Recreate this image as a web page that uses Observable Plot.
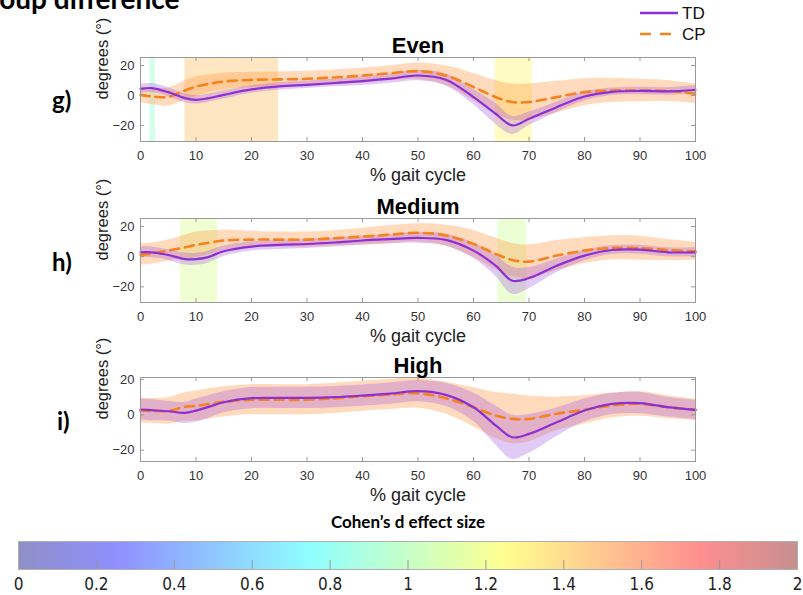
<!DOCTYPE html>
<html><head><meta charset="utf-8">
<script src="https://cdn.jsdelivr.net/npm/d3@7"></script>
<script src="https://cdn.jsdelivr.net/npm/@observablehq/plot@0.6"></script>
<style>
html,body{margin:0;padding:0;background:#fff;width:803px;height:595px;overflow:hidden;}
#root{position:relative;width:803px;height:595px;overflow:hidden;}
.abs{position:absolute;}
.plabel{font-family:Lato,"Open Sans",sans-serif;font-weight:700;font-size:24px;line-height:1;transform:translateY(-50%);}
#bigtitle{font-family:Lato,"Open Sans",sans-serif;font-weight:700;font-size:28px;line-height:1;white-space:nowrap;}
</style></head><body><div id="root"></div>
<script>
// ---------- data ----------
const xs = [0, 2, 5, 8, 10, 12, 15, 20, 25, 30, 35, 40, 45, 50, 55, 60, 64, 67, 70, 75, 80, 85, 90, 95, 100];

const evenTD   = [4.4, 4.9, 2.2, -1.8, -2.9, -2.0, 0.4, 4.0, 6.0, 7.1, 8.3, 9.6, 11.2, 13.3, 10.5, -1.1, -12.2, -20.0, -15.6, -7.8, -0.7, 2.4, 3.0, 2.7, 3.8];
const evenTDsd = [3, 3, 3, 3, 2.8, 2.8, 2.8, 2.5, 2.5, 2.5, 2.5, 3, 3, 3.5, 4, 5, 7, 6, 4.5, 3.5, 3, 2.5, 2.5, 2.5, 2.8];
const evenCP   = [0.4, -0.6, -1.0, 3.3, 6.0, 7.5, 9.3, 10.4, 10.7, 11.1, 12.0, 13.3, 14.8, 16.2, 13.3, 5.6, -1.1, -4.4, -4.4, -1.1, 2.2, 3.3, 3.3, 3.0, 1.1];
const evenCPsd = [5, 5.5, 6, 6.5, 6.5, 6, 5.5, 5, 5, 5, 5, 5, 5, 5.5, 6.5, 9, 11, 12, 12, 10.5, 9, 8, 7.5, 7, 6.5];

const medTD   = [2.9, 2.9, 1.1, -1.6, -1.7, -0.5, 3.6, 6.7, 7.8, 8.4, 9.4, 10.7, 11.6, 12.4, 11.1, 4.0, -6.0, -16.0, -14.2, -6.0, 0.7, 4.4, 4.6, 2.9, 2.9];
const medTDsd = [3.5, 3.5, 3.5, 4, 4, 4, 3.5, 3, 3, 3, 3, 3, 3, 3.5, 4, 5, 7, 9, 7, 4.5, 3.5, 3, 3, 3, 3];
const medCP   = [1.3, 2.0, 4.0, 6.2, 7.8, 9.0, 10.7, 11.3, 11.3, 11.3, 12.2, 13.3, 14.6, 15.8, 14.0, 8.4, 1.8, -2.2, -3.3, 0.7, 4.0, 5.8, 5.6, 4.4, 3.6];
const medCPsd = [7, 7, 7, 8, 8.5, 8, 7, 5.5, 5, 5, 5, 5.5, 6, 6, 7, 9, 10.5, 11, 11, 10, 8.5, 8, 8, 7, 6];

const highTD   = [3.0, 2.6, 2.0, 1.1, 2.4, 4.2, 7.1, 9.4, 9.6, 9.6, 10.0, 10.9, 12.0, 13.4, 11.3, 4.3, -6.0, -12.7, -10.8, -4.2, 2.4, 6.2, 6.6, 4.3, 2.8];
const highTDsd = [6, 6, 5.5, 6, 6.5, 6.5, 6, 6, 6, 6, 6, 6, 6, 6, 6.5, 8, 11, 12.5, 11, 8, 6.5, 6, 6, 5.5, 5.5];
const highCP   = [2.4, 2.2, 2.2, 4.5, 5.0, 6.0, 7.3, 8.5, 8.5, 8.5, 9.3, 10.5, 11.5, 12.2, 9.4, 4.3, -0.4, -2.3, -2.3, 0.6, 2.8, 5.3, 6.2, 4.3, 2.8];
const highCPsd = [7, 7, 7.5, 8, 8.5, 8.5, 8.5, 8.5, 8.5, 8.5, 8.5, 8.5, 8.5, 8.5, 9, 11, 13, 14, 13, 9.5, 8, 7, 7, 6.5, 6];

// significant regions (x from, x to, Cohen's d)
const evenRegions = [{x1: 1.7, x2: 2.7, d: 0.9}, {x1: 8.0, x2: 24.9, d: 1.45}, {x1: 63.9, x2: 70.6, d: 1.28}];
const medRegions  = [{x1: 7.2, x2: 13.9, d: 1.12}, {x1: 64.4, x2: 69.6, d: 1.1}];
const highRegions = [];

const xTicks = [0, 10, 20, 30, 40, 50, 60, 70, 80, 90, 100];
const yTicks = [-20, 0, 20];
const cbTicks = [0, 0.2, 0.4, 0.6, 0.8, 1, 1.2, 1.4, 1.6, 1.8, 2];
const cbInnerTicks = [0.2, 0.4, 0.6, 0.8, 1, 1.2, 1.4, 1.6, 1.8];
const effectDomain = [0, 0.25, 0.75, 1.25, 1.75, 2];
const effectColors = ["#8f8fc7", "#8f8fff", "#8fffff", "#ffff8f", "#ff8f8f", "#c78f8f"];

const panelTitles = ["Even", "Medium", "High"];
const panelLabels = ["g)", "h)", "i)"];
const legendLabels = ["TD", "CP"];

// ---------- styles ----------
const tdColor = "#8c2fd3", cpColor = "#f5821f";
const tdBand = "#9e4fe0", cpBand = "#ff9640";
const frameColor = "#9a9a9a";
const curve = "catmull-rom";
const colorScale = {type: "linear", domain: effectDomain, range: effectColors};
const baseFont = '"Liberation Sans", Arial, Helvetica, sans-serif';
const root = document.getElementById("root");

function panel(cfg) {
  const rows = xs.map((x, i) => ({
    x,
    td: cfg.td[i], tdLo: cfg.td[i] - cfg.tdSd[i], tdHi: cfg.td[i] + cfg.tdSd[i],
    cp: cfg.cp[i], cpLo: cfg.cp[i] - cfg.cpSd[i], cpHi: cfg.cp[i] + cfg.cpSd[i]
  }));
  const fw = 803 - 140 - 108, fh = 84;
  return Plot.plot({
    width: 803, height: 156,
    marginTop: 27, marginBottom: 45, marginLeft: 140, marginRight: 108,
    style: {fontFamily: baseFont, fontSize: "13px", color: "#333", background: "transparent", overflow: "visible"},
    x: {domain: [0, 100]},
    y: {domain: cfg.yDomain},
    color: colorScale,
    marks: [
      Plot.rect(cfg.regions, {x1: "x1", x2: "x2", fill: "d", fillOpacity: 0.55}),
      Plot.areaY(rows, {x: "x", y1: "cpLo", y2: "cpHi", fill: cpBand, fillOpacity: 0.35, curve}),
      Plot.areaY(rows, {x: "x", y1: "tdLo", y2: "tdHi", fill: tdBand, fillOpacity: 0.3, curve}),
      Plot.lineY(rows, {x: "x", y: "cp", stroke: cpColor, strokeWidth: 2.6, strokeDasharray: "9,6", curve}),
      Plot.lineY(rows, {x: "x", y: "td", stroke: tdColor, strokeWidth: 2.2, curve}),
      Plot.ruleX(xTicks, {x: d => d, stroke: frameColor, insetTop: fh - 4}),
      Plot.ruleX(xTicks, {x: d => d, stroke: frameColor, insetBottom: fh - 4}),
      Plot.ruleY(yTicks, {y: d => d, stroke: frameColor, insetRight: fw - 4}),
      Plot.ruleY(yTicks, {y: d => d, stroke: frameColor, insetLeft: fw - 4}),
      Plot.frame({stroke: frameColor}),
      Plot.axisX(xTicks, {anchor: "bottom", tickSize: 0, tickPadding: 9, label: null, fill: "#333"}),
      Plot.axisY(yTicks, {anchor: "left", tickSize: 0, tickPadding: 6, label: null, fill: "#333"}),
      Plot.text(["% gait cycle"], {text: d => d, frameAnchor: "bottom", dy: 34, lineAnchor: "middle", fontSize: 18, fill: "#222"}),
      Plot.text(["degrees (°)"], {text: d => d, frameAnchor: "left", dx: -38, rotate: -90, fontSize: 16.5, fill: "#222"}),
      Plot.text([cfg.title], {text: d => d, frameAnchor: "top", dy: -5, lineAnchor: "bottom", fontSize: 22, fontWeight: "bold", fill: "#000"})
    ]
  });
}

function place(el, left, top) {
  el.style.position = "absolute";
  el.style.left = left + "px";
  el.style.top = top + "px";
  root.appendChild(el);
}

// Big clipped title
const bt = document.createElement("div");
bt.id = "bigtitle";
bt.textContent = "Group difference";
place(bt, -31, -16);

// panels
const cfgs = [
  {title: panelTitles[0], td: evenTD, tdSd: evenTDsd, cp: evenCP, cpSd: evenCPsd, regions: evenRegions, yDomain: [-30.7, 25.3], top: 30, labelY: 100},
  {title: panelTitles[1], td: medTD, tdSd: medTDsd, cp: medCP, cpSd: medCPsd, regions: medRegions, yDomain: [-30.4, 25.3], top: 191, labelY: 262},
  {title: panelTitles[2], td: highTD, tdSd: highTDsd, cp: highCP, cpSd: highCPsd, regions: highRegions, yDomain: [-26.4, 21.1], top: 350, labelY: 421}
];
cfgs.forEach((c, i) => {
  place(panel(c), 0, c.top);
  const lab = document.createElement("div");
  lab.className = "plabel";
  lab.textContent = panelLabels[i];
  place(lab, i === 2 ? 57 : 52, c.labelY);
});

// legend
const ns = "http://www.w3.org/2000/svg";
const leg = document.createElementNS(ns, "svg");
leg.setAttribute("width", 173); leg.setAttribute("height", 48);
leg.innerHTML =
  `<line x1="10" x2="48" y1="13" y2="13" stroke="${tdColor}" stroke-width="2.6"/>` +
  `<text x="52" y="13" dominant-baseline="central" font-family='${baseFont}' font-size="17" fill="#111">${legendLabels[0]}</text>` +
  `<line x1="10" x2="41" y1="34" y2="34" stroke="${cpColor}" stroke-width="2.6" stroke-dasharray="11,9"/>` +
  `<text x="52" y="34" dominant-baseline="central" font-family='${baseFont}' font-size="17" fill="#111">${legendLabels[1]}</text>`;
place(leg, 630, 0);

// colorbar
const cbFont = '"Liberation Sans Narrow", "DejaVu Sans Condensed", "Arial Narrow", sans-serif';
const cb = Plot.plot({
  width: 803, height: 84,
  marginTop: 30, marginBottom: 26, marginLeft: 18, marginRight: 6,
  style: {fontFamily: cbFont, fontSize: "17px", color: "#222", background: "transparent", overflow: "visible", fontStretch: "condensed"},
  x: {domain: [0, 2]},
  y: {domain: [0, 1], axis: null},
  color: colorScale,
  marks: [
    Plot.raster({x1: 0, x2: 2, y1: 0, y2: 1, width: 600, height: 1, fill: (x, y) => x, imageRendering: "auto"}),
    Plot.ruleX(cbInnerTicks, {x: d => d, stroke: "#999", insetTop: 19}),
    Plot.frame({stroke: "#b0b0b0"}),
    Plot.axisX(cbTicks, {anchor: "bottom", tickSize: 0, tickPadding: 8, label: null, tickFormat: d => String(d), fill: "#222"}),
    Plot.text(["Cohen’s d effect size"], {text: d => d, frameAnchor: "top", dy: -19, lineAnchor: "middle", fontFamily: 'Lato, "Open Sans", sans-serif', fontWeight: "bold", fontSize: 17, fill: "#000"})
  ]
});
place(cb, 0, 511);
</script></body></html>
